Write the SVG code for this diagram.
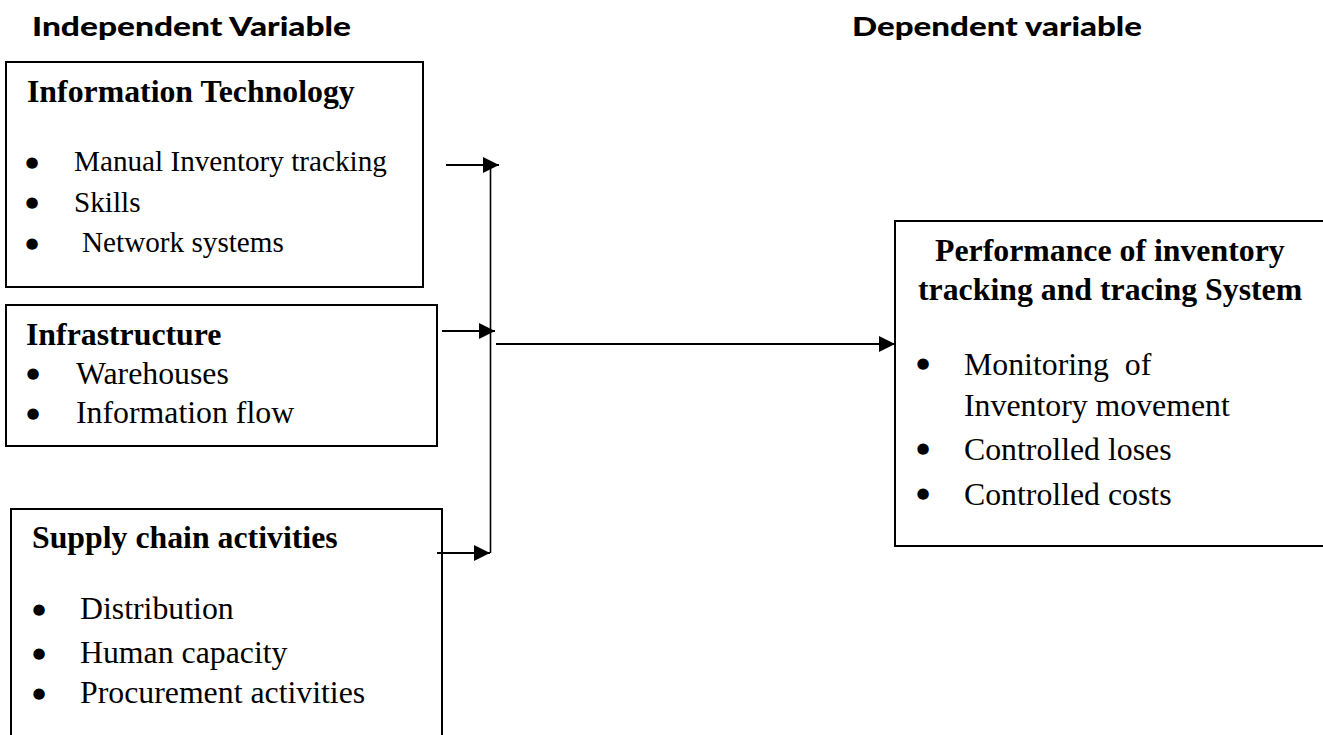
<svg xmlns="http://www.w3.org/2000/svg" width="1323" height="735" viewBox="0 0 1323 735">
  <defs>
    <marker id="arrow" viewBox="0 0 16 16" refX="16" refY="8" markerWidth="16" markerHeight="16" markerUnits="userSpaceOnUse" orient="auto">
      <path d="M0,0 L16,8 L0,16 z" fill="#000"/>
    </marker>
    <style>
      .box { fill: #fff; stroke: #000; stroke-width: 2; }
      .hdr { font-family: "Lato", "Open Sans", sans-serif; font-weight: 900; font-size: 27px; fill: #000; }
      .ttl { font-family: "Liberation Serif", "Times New Roman", serif; font-weight: bold; font-size: 31.8px; fill: #000; }
      .itm { font-family: "Liberation Serif", "Times New Roman", serif; font-size: 31.8px; fill: #000; }
      .itm11 { font-family: "Liberation Serif", "Times New Roman", serif; font-size: 29.2px; fill: #000; }
      .bul { font-family: "DejaVu Sans", sans-serif; font-size: 15px; fill: #000; text-anchor: middle; }
      .con { stroke: #000; stroke-width: 2; fill: none; }
      .bus { stroke: #000; stroke-width: 1.6; fill: none; }
    </style>
  </defs>
  <rect width="1323" height="735" fill="#fff"/>

  <g id="headers">
    <text class="hdr" x="32" y="36" textLength="319" lengthAdjust="spacingAndGlyphs">Independent Variable</text>
    <text class="hdr" x="852" y="36" textLength="290" lengthAdjust="spacingAndGlyphs">Dependent variable</text>
  </g>

  <g id="node-it">
    <rect class="box" x="6" y="62" width="417" height="225"/>
    <text class="ttl" x="27" y="102">Information Technology</text>
    <text class="bul" x="32" y="166.5">●</text>
    <text class="itm11" x="74" y="171">Manual Inventory tracking</text>
    <text class="bul" x="32" y="206.5">●</text>
    <text class="itm11" x="74" y="212">Skills</text>
    <text class="bul" x="32" y="248">●</text>
    <text class="itm11" x="82" y="252">Network systems</text>
  </g>

  <g id="node-infrastructure">
    <rect class="box" x="6" y="305" width="431" height="141"/>
    <text class="ttl" x="26" y="345">Infrastructure</text>
    <text class="bul" x="33" y="378">●</text>
    <text class="itm" x="76" y="384">Warehouses</text>
    <text class="bul" x="33" y="418">●</text>
    <text class="itm" x="76" y="423">Information flow</text>
  </g>

  <g id="node-supply">
    <rect class="box" x="11" y="509" width="431" height="240"/>
    <text class="ttl" x="32" y="548">Supply chain activities</text>
    <text class="bul" x="39" y="614">●</text>
    <text class="itm" x="80" y="619">Distribution</text>
    <text class="bul" x="39" y="658">●</text>
    <text class="itm" x="80" y="663">Human capacity</text>
    <text class="bul" x="39" y="698">●</text>
    <text class="itm" x="80" y="703">Procurement activities</text>
  </g>

  <g id="node-performance">
    <rect class="box" x="895" y="221" width="450" height="325"/>
    <text class="ttl" x="935" y="261">Performance of inventory</text>
    <text class="ttl" x="918" y="300">tracking and tracing System</text>
    <text class="bul" x="923" y="368">●</text>
    <text class="itm" x="964" y="375" xml:space="preserve">Monitoring  of</text>
    <text class="itm" x="964" y="416">Inventory movement</text>
    <text class="bul" x="923" y="453">●</text>
    <text class="itm" x="964" y="460">Controlled loses</text>
    <text class="bul" x="923" y="498">●</text>
    <text class="itm" x="964" y="505">Controlled costs</text>
  </g>

  <g id="connectors">
    <line class="con" x1="446" y1="165" x2="499" y2="165" marker-end="url(#arrow)"/>
    <line class="con" x1="442" y1="331" x2="495" y2="331" marker-end="url(#arrow)"/>
    <line class="con" x1="437" y1="553" x2="490" y2="553" marker-end="url(#arrow)"/>
    <line class="bus" x1="490.5" y1="168" x2="490.5" y2="553"/>
    <line class="con" x1="496" y1="344" x2="895" y2="344" marker-end="url(#arrow)"/>
  </g>
</svg>
